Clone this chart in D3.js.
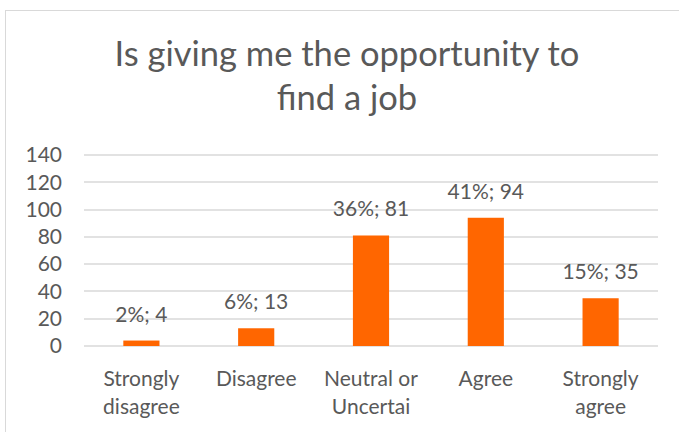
<!DOCTYPE html>
<html>
<head>
<meta charset="utf-8">
<script src="https://cdn.jsdelivr.net/npm/d3@7"></script>
<style>
  html, body { margin: 0; padding: 0; background: #fff; }
  svg { display: block; }
  text { font-family: Lato, "Noto Sans", sans-serif; fill: #595959; }
</style>
</head>
<body>
<svg id="chart" width="679" height="432"></svg>
<script>
// Survey responses
const categories = ["Strongly disagree", "Disagree", "Neutral or Uncertai", "Agree", "Strongly agree"];
const categoryLines = [["Strongly", "disagree"], ["Disagree"], ["Neutral or", "Uncertai"], ["Agree"], ["Strongly", "agree"]];
const counts = [4, 13, 81, 94, 35];
const percents = ["2%", "6%", "36%", "41%", "15%"];
const yTicks = [0, 20, 40, 60, 80, 100, 120, 140];
const titleLines = ["Is giving me the opportunity to", "find a job"];

const svg = d3.select("#chart");

// Chart frame
svg.append("rect")
  .attr("x", 5.5).attr("y", 10.5)
  .attr("width", 700).attr("height", 440)
  .attr("fill", "#fff").attr("stroke", "#d9d9d9").attr("stroke-width", 1);

const plot = { left: 84, right: 658, top: 155, bottom: 346 };

const x = d3.scaleBand()
  .domain(categories)
  .range([plot.left, plot.right])
  .paddingInner(0.685)
  .paddingOuter(0.3425);

const y = d3.scaleLinear()
  .domain([0, 140])
  .range([plot.bottom, plot.top]);

// Gridlines
svg.append("g")
  .selectAll("line")
  .data(yTicks)
  .join("line")
  .attr("x1", plot.left).attr("x2", plot.right)
  .attr("y1", d => Math.round(y(d)))
  .attr("y2", d => Math.round(y(d)))
  .attr("stroke", "#d9d9d9").attr("stroke-width", 1.6);

// Y axis labels
const yAxis = d3.axisLeft(y).tickValues(yTicks).tickSize(0).tickPadding(0);
const yg = svg.append("g")
  .attr("transform", `translate(${plot.left - 22},0)`)
  .call(yAxis);
yg.select(".domain").remove();
yg.selectAll("text")
  .style("font-family", "Lato, 'Noto Sans', sans-serif")
  .style("font-size", "21px")
  .attr("fill", "#595959");

// Bars
svg.append("g")
  .selectAll("rect")
  .data(categories)
  .join("rect")
  .attr("x", d => x(d))
  .attr("width", x.bandwidth())
  .attr("y", (d, i) => y(counts[i]))
  .attr("height", (d, i) => y(0) - y(counts[i]))
  .attr("fill", "#ff6600");

// Data labels
svg.append("g")
  .selectAll("text")
  .data(categories)
  .join("text")
  .attr("x", d => x(d) + x.bandwidth() / 2)
  .attr("y", (d, i) => y(counts[i]) - 19)
  .attr("text-anchor", "middle")
  .style("font-size", "21px")
  .text((d, i) => `${percents[i]}; ${counts[i]}`);

// Category labels
const xl = svg.append("g")
  .selectAll("text")
  .data(categories)
  .join("text")
  .attr("x", d => x(d) + x.bandwidth() / 2)
  .attr("y", 386)
  .attr("text-anchor", "middle")
  .style("font-size", "21px");
xl.selectAll("tspan")
  .data((d, i) => categoryLines[i])
  .join("tspan")
  .attr("x", function() { return d3.select(this.parentNode).attr("x"); })
  .attr("dy", (d, i) => i === 0 ? 0 : 28)
  .text(d => d);

// Title
svg.append("g")
  .selectAll("text")
  .data(titleLines)
  .join("text")
  .attr("x", 347)
  .attr("y", (d, i) => 66 + i * 44)
  .attr("text-anchor", "middle")
  .style("font-size", "34.5px")
  .text(d => d);
</script>
</body>
</html>
